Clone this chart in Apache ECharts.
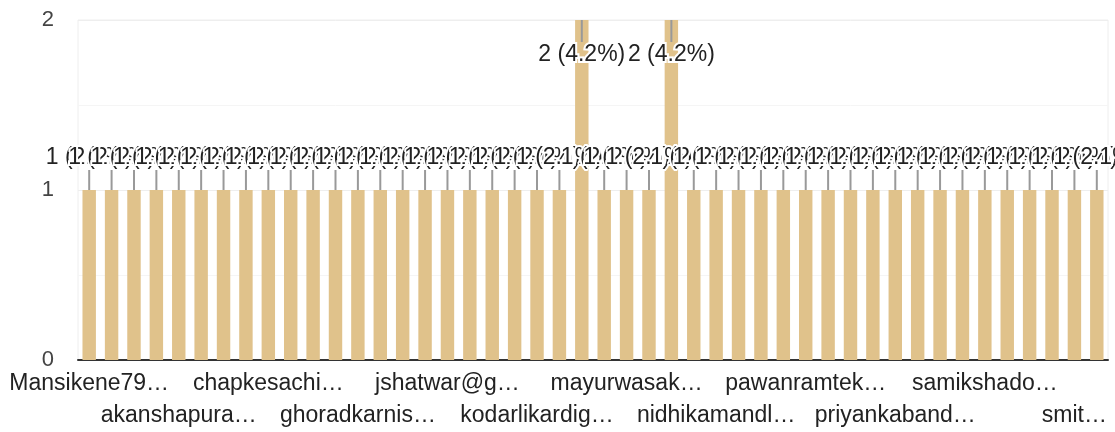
<!DOCTYPE html>
<html>
<head>
<meta charset="utf-8">
<script src="https://cdn.jsdelivr.net/npm/echarts@6/dist/echarts.min.js"></script>
<style>
  html, body { margin: 0; padding: 0; background: #fff; }
  #chart { width: 1115px; height: 432px; }
</style>
</head>
<body>
<div id="chart"></div>
<script>
// labels visible under the axis (one every 4 bars), as shown (truncated)
var shownLabels = ['Mansikene79…', 'akanshapura…', 'chapkesachi…', 'ghoradkarnis…',
    'jshatwar@g…', 'kodarlikardig…', 'mayurwasak…', 'nidhikamandl…',
    'pawanramtek…', 'priyankaband…', 'samikshado…', 'smit…'];
var labelStep = 4;
// response count per answer (46 answers)
var values = [1, 1, 1, 1, 1, 1, 1, 1, 1, 1, 1, 1, 1, 1, 1, 1, 1, 1, 1, 1, 1, 1,
    2, 1, 1, 1, 2, 1, 1, 1, 1, 1, 1, 1, 1, 1, 1, 1, 1, 1, 1, 1, 1, 1, 1, 1];
var yTicks = [0, 1, 2];

var total = values.reduce(function (a, b) { return a + b; }, 0);
var categories = values.map(function (v, i) {
    return i % labelStep === 0 ? shownLabels[i / labelStep] : '';
});
var font = '"Liberation Sans", Arial, sans-serif';

// labels alternate between two rows, one axis per row
function labelAxis(row) {
    return {
        type: 'category',
        data: categories,
        position: 'bottom',
        axisTick: { show: false },
        axisLine: { show: row === 0, lineStyle: { color: '#333', width: 2 } },
        axisLabel: {
            interval: function (idx) { return idx % (labelStep * 2) === row * labelStep; },
            showMinLabel: row === 0 ? true : null,
            showMaxLabel: row === 1 ? true : null,
            margin: 8 + row * 32,
            color: '#222',
            fontFamily: font,
            fontSize: 23,
            lineHeight: 32
        }
    };
}

var chart = echarts.init(document.getElementById('chart'));
chart.setOption({
    animation: false,
    grid: { left: 78, right: 7, top: 20, bottom: 72, show: true, borderColor: '#eee', borderWidth: 1 },
    xAxis: [labelAxis(0), labelAxis(1)],
    yAxis: {
        type: 'value',
        min: 0,
        max: 2,
        interval: 0.5,
        axisLine: { show: false },
        axisTick: { show: false },
        axisLabel: {
            margin: 24,
            color: '#444',
            fontFamily: font,
            fontSize: 22,
            formatter: function (v) { return yTicks.indexOf(v) >= 0 ? String(v) : ''; }
        },
        splitLine: { lineStyle: { color: ['#eee', '#f5f5f5'], width: 1 } }
    },
    series: [
        {
            type: 'bar',
            data: values,
            barCategoryGap: '40%',
            itemStyle: { color: '#e0c28b' },
            z: 2
        },
        {
            type: 'custom',
            z: 5,
            data: values.map(function (v, i) { return [i, v]; }),
            renderItem: function (params, api) {
                var i = api.value(0), v = api.value(1);
                var top = api.coord([i, v]);
                var above = top[1] - 45 > params.coordSys.y;
                var lineEnd = above ? top[1] - 20 : top[1] + 22;
                var textY = above ? top[1] - 32 : top[1] + 35;
                var txt = v + ' (' + (v / total * 100).toFixed(1) + '%)';
                return {
                    type: 'group',
                    children: [
                        {
                            type: 'line',
                            shape: { x1: top[0], y1: top[1], x2: top[0], y2: lineEnd },
                            style: { stroke: '#999', lineWidth: 2 }
                        },
                        {
                            type: 'text',
                            x: top[0],
                            y: textY,
                            style: {
                                text: txt,
                                align: 'center',
                                verticalAlign: 'middle',
                                fontSize: 23,
                                fontFamily: font,
                                fill: '#222',
                                stroke: '#fff',
                                lineWidth: 4
                            }
                        }
                    ]
                };
            }
        }
    ]
});
</script>
</body>
</html>
